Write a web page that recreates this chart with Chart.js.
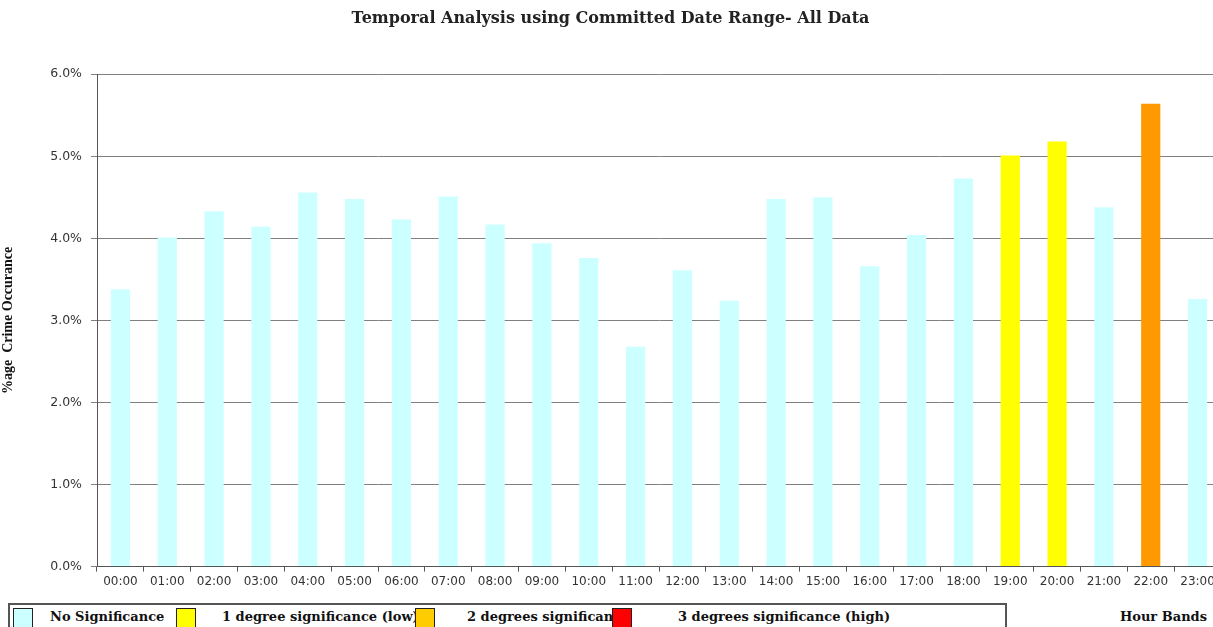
<!DOCTYPE html>
<html>
<head>
<meta charset="utf-8">
<script src="https://cdn.jsdelivr.net/npm/chart.js@4.4.1/dist/chart.umd.min.js"></script>
<style>
    html, body { margin: 0; padding: 0; background: #fff; overflow: hidden; }
    #wrap { position: relative; width: 1213px; height: 627px; overflow: hidden; }
    #chartBox { position: absolute; left: 0; top: 0; width: 1221px; height: 600px; }
    .legend { position: absolute; left: 8px; top: 603px; width: 999px; height: 30px;
              border: 2px solid #555; box-sizing: border-box; background: #fff; }
    .sw { position: absolute; top: 608px; width: 20px; height: 20px; border: 1px solid #222;
          box-sizing: border-box; }
    .lt { position: absolute; top: 609px; font: bold 13px "DejaVu Serif", serif; color: #111;
          white-space: nowrap; overflow: hidden; }
</style>
</head>
<body>
<div id="wrap">
    <div id="chartBox"><canvas id="crimeChart"></canvas></div>

    <div class="legend"></div>
    <div class="sw" style="left:13px;background:#ccffff"></div>
    <div class="lt" style="left:50px">No Significance</div>
    <div class="sw" style="left:176px;background:#ffff00"></div>
    <div class="lt" style="left:222px;width:193px">1 degree significance (low)</div>
    <div class="sw" style="left:415px;background:#ffcc00"></div>
    <div class="lt" style="left:467px;width:145px">2 degrees significance (medium)</div>
    <div class="sw" style="left:612px;background:#ff0000"></div>
    <div class="lt" style="left:678px">3 degrees significance (high)</div>
    <div class="lt" style="right:6px">Hour Bands</div>
</div>

<script>
/* ------------------------------------------------------------
   Data
   ------------------------------------------------------------ */
const hourBands = ["00:00", "01:00", "02:00", "03:00", "04:00", "05:00", "06:00", "07:00",
                   "08:00", "09:00", "10:00", "11:00", "12:00", "13:00", "14:00", "15:00",
                   "16:00", "17:00", "18:00", "19:00", "20:00", "21:00", "22:00", "23:00"];

const crimePct = [3.38, 4.01, 4.33, 4.14, 4.56, 4.48, 4.23, 4.51,
                  4.17, 3.94, 3.76, 2.68, 3.61, 3.24, 4.48, 4.50,
                  3.66, 4.04, 4.73, 5.01, 5.18, 4.38, 5.64, 3.26];

// 0 = none, 1 = low, 2 = medium, 3 = high
const significance = [0, 0, 0, 0, 0, 0, 0, 0,
                      0, 0, 0, 0, 0, 0, 0, 0,
                      0, 0, 0, 1, 1, 0, 2, 0];

const sigColours = ["#ccffff", "#ffff00", "#ff9900", "#ff0000"];

const yTicks = [0, 1, 2, 3, 4, 5, 6];

/* ------------------------------------------------------------
   Chart
   ------------------------------------------------------------ */
const ctx = document.getElementById("crimeChart");

new Chart(ctx, {
    type: "bar",
    data: {
        labels: hourBands,
        datasets: [{
            label: "%age Crime Occurance",
            data: crimePct,
            backgroundColor: significance.map(s => sigColours[s]),
            borderWidth: 0,
            categoryPercentage: 1,
            barPercentage: 0.41
        }]
    },
    options: {
        responsive: true,
        maintainAspectRatio: false,
        animation: false,
        layout: { padding: { top: 0, right: 0, bottom: 8, left: 0 } },
        plugins: {
            legend: { display: false },
            tooltip: { enabled: false },
            title: {
                display: true,
                text: "Temporal Analysis using Committed Date Range- All Data",
                color: "#222",
                font: { family: "DejaVu Serif", size: 16, weight: "bold" },
                padding: { top: 9, bottom: 46 }
            }
        },
        scales: {
            x: {
                offset: true,
                grid: {
                    offset: true,
                    drawOnChartArea: false,
                    drawTicks: true,
                    tickLength: 5,
                    color: "#555"
                },
                border: { color: "#555", width: 1 },
                ticks: {
                    color: "#333",
                    padding: 3,
                    maxRotation: 0,
                    autoSkip: false,
                    font: { family: "DejaVu Sans", size: 12 }
                }
            },
            y: {
                min: 0,
                max: 6,
                afterBuildTicks: axis => { axis.ticks = yTicks.map(v => ({ value: v })); },
                afterFit: axis => { axis.width = 97; },
                grid: {
                    color: "#808080",
                    lineWidth: 1,
                    drawTicks: true,
                    tickLength: 6
                },
                border: { color: "#555", width: 1 },
                ticks: {
                    color: "#333",
                    padding: 9,
                    font: { family: "DejaVu Sans", size: 12.5 },
                    callback: v => v.toFixed(1) + "%"
                },
                title: {
                    display: true,
                    text: "%age  Crime Occurance",
                    color: "#111",
                    font: { family: "Liberation Serif", size: 14, weight: "bold" },
                    padding: { top: 0, bottom: 14 }
                }
            }
        }
    }
});
</script>
</body>
</html>
